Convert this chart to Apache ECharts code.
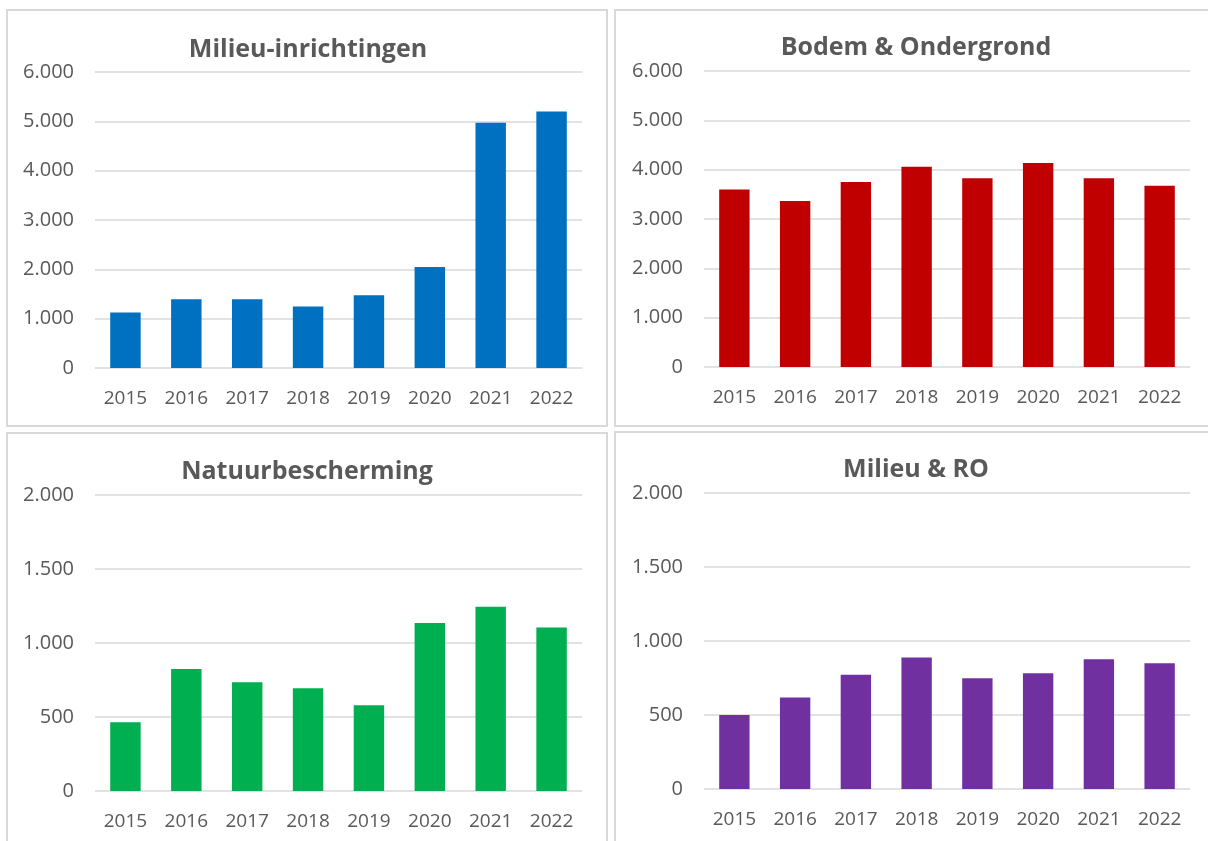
<!DOCTYPE html>
<html>
  <head>
    <meta charset="utf-8">
    <title>Vier panelen</title>
    <style>
      html, body {
        margin: 0;
        padding: 0;
        background: #fff;
      }
      #container {
        width: 1208px;
        height: 841px;
      }
    </style>
  </head>
  <body>
    <div id="container"></div>
    <script src="https://cdn.jsdelivr.net/npm/echarts@6/dist/echarts.min.js"></script>
    <script type="text/javascript">

      const years = ['2015', '2016', '2017', '2018', '2019', '2020', '2021', '2022'];

      const titles = ['Milieu-inrichtingen', 'Bodem & Ondergrond', 'Natuurbescherming', 'Milieu & RO'];

      const milieuInrichtingen = [1125, 1395, 1395, 1245, 1475, 2045, 4970, 5200];
      const bodemOndergrond = [3600, 3365, 3750, 4060, 3825, 4135, 3825, 3675];
      const natuurbescherming = [465, 825, 735, 695, 580, 1135, 1245, 1105];
      const milieuRO = [500, 618, 772, 888, 748, 782, 876, 850];

      const axisMax = [6000, 6000, 2000, 2000];
      const axisStep = [1000, 1000, 500, 500];

      const seriesValues = [milieuInrichtingen, bodemOndergrond, natuurbescherming, milieuRO];
      const barColors = ['#0070C0', '#C00000', '#00B050', '#7030A0'];

      // panel boxes and plot areas, in pixels
      const panels = [
        { box: [7, 10, 600, 416], grid: { left: 95, top: 72, width: 487, height: 296 }, titleX: 308, titleY: 37 },
        { box: [615, 10, 600, 416], grid: { left: 704, top: 71, width: 486, height: 296 }, titleX: 916, titleY: 35 },
        { box: [7, 433, 600, 420], grid: { left: 95, top: 495, width: 487, height: 296 }, titleX: 307, titleY: 459 },
        { box: [615, 432, 600, 420], grid: { left: 704, top: 493, width: 486, height: 296 }, titleX: 916, titleY: 457 }
      ];

      const textColor = '#595959';
      const fontFamily = '"Open Sans", sans-serif';

      const fmt = v => String(v).replace(/\B(?=(\d{3})+(?!\d))/g, '.');

      const initializeChart = () => {
        const chart = echarts.init(document.getElementById('container'), null, { renderer: 'canvas' });

        const option = {
          animation: false,
          backgroundColor: '#fff',
          title: panels.map((p, i) => ({
            text: titles[i],
            left: p.titleX,
            top: p.titleY,
            textAlign: 'center',
            padding: 0,
            textStyle: { color: textColor, fontFamily, fontSize: 25, fontWeight: 'bold' }
          })),
          grid: panels.map(p => Object.assign({ containLabel: false }, p.grid)),
          xAxis: panels.map((p, i) => ({
            type: 'category',
            gridIndex: i,
            data: years,
            axisLine: { show: false },
            axisTick: { show: false },
            axisLabel: { color: textColor, fontFamily, fontSize: 19, margin: 21 }
          })),
          yAxis: panels.map((p, i) => ({
            type: 'value',
            gridIndex: i,
            min: 0,
            max: axisMax[i],
            interval: axisStep[i],
            axisLine: { show: false },
            axisTick: { show: false },
            splitLine: { lineStyle: { color: '#d9d9d9', width: 1.5 } },
            axisLabel: { color: textColor, fontFamily, fontSize: 20, margin: 21, formatter: fmt }
          })),
          series: seriesValues.map((vals, i) => ({
            type: 'bar',
            xAxisIndex: i,
            yAxisIndex: i,
            data: vals,
            barWidth: '50%',
            itemStyle: { color: barColors[i] }
          })),
          graphic: panels.map(p => ({
            type: 'rect',
            silent: true,
            z: -1,
            shape: { x: p.box[0], y: p.box[1], width: p.box[2], height: p.box[3] },
            style: { fill: null, stroke: '#d9d9d9', lineWidth: 2 }
          }))
        };

        chart.setOption(option);
      };

      document.addEventListener('DOMContentLoaded', initializeChart);
    </script>
  </body>
</html>
